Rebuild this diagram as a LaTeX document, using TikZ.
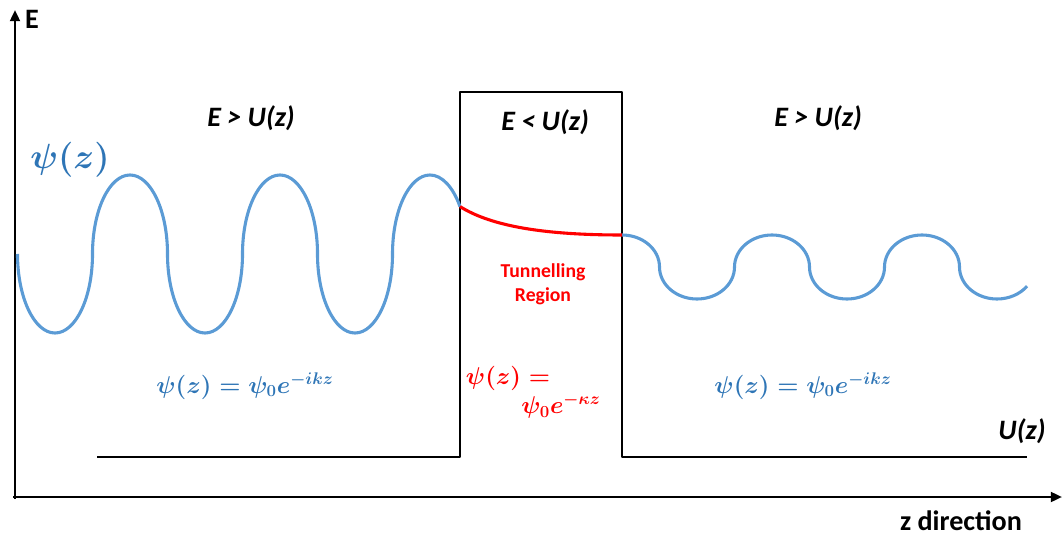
\documentclass[tikz,border=0pt]{standalone}
\usepackage{fontspec}
\setmainfont{Carlito}
\usepackage{amsmath,bm}
\usetikzlibrary{arrows.meta,positioning}
\definecolor{wave}{HTML}{5B9BD5}
\definecolor{wavetext}{HTML}{2E75B6}

\begin{document}
\begin{tikzpicture}[
    x=0.025cm,
    y=-0.025cm,
    >={Triangle[length=8pt,width=7pt]},
    axis/.style={->,line width=1.8pt},
    pot/.style={line width=1.8pt,line join=round},
    bluewave/.style={draw=wave,line width=2.2pt},
    redwave/.style={draw=red,line width=2.2pt},
    region/.style={font=\fontsize{20}{24}\selectfont\bfseries\itshape},
    axlabel/.style={font=\fontsize{20}{24}\selectfont\bfseries},
    eqn/.style={font=\fontsize{18}{22}\selectfont\boldmath,text=wavetext},
    psilabel/.style={font=\fontsize{25}{30}\selectfont\boldmath,text=wavetext},
    tunnel/.style={font=\fontsize{14}{17}\selectfont\bfseries,text=red,align=center}
  ]
  \useasboundingbox (0,0) rectangle (1064,537);

  % ========== Axes ==========
  \coordinate (o) at (15,497);
  \coordinate (ytop) at (15,10);
  \coordinate (xend) at (1062,497);
  \draw[axis] (o |- 0,499) -- (ytop);
  \draw[axis] (13,497) -- (xend);
  \node[axlabel] (elab) at (32,19) {E};
  \node[axlabel] (zlab) at (961,521) {z direction};

  % ========== Potential U(z) ==========
  \coordinate (u0) at (97,457);
  \coordinate (u1) at (460,457);
  \coordinate (u2) at (460,92);
  \coordinate (u3) at (622,92);
  \coordinate (u4) at (622,457);
  \coordinate (u5) at (1027,457);
  \draw[pot] (u0) -- (u1) -- (u2) -- (u3) -- (u4) -- (u5);
  \node[region] (ulab) at (1022,431) {U(z)};

  \node[region] (reg1) at (251,118) {E > U(z)};
  \node[region] (reg2) at (545,122) {E < U(z)};
  \node[region] (reg3) at (818,118) {E > U(z)};

  % ========== Wave function ==========
  % incoming wave
  \draw[bluewave] (17.5,254)
    foreach \k in {1,2} {
      arc[start angle=180,end angle=0,x radius=37.5,y radius=79]
      arc[start angle=180,end angle=360,x radius=37.5,y radius=79]
    }
    arc[start angle=180,end angle=0,x radius=37.5,y radius=79]
    arc[start angle=180,end angle=323.13,x radius=37.5,y radius=79]
    coordinate (win);

  % transmitted wave
  \coordinate (wout) at (622,235);
  \draw[bluewave] (wout)
    arc[start angle=270,end angle=360,x radius=37.5,y radius=32]
    foreach \k in {1,2} {
      arc[start angle=180,end angle=0,x radius=37.5,y radius=32]
      arc[start angle=180,end angle=360,x radius=37.5,y radius=32]
    }
    arc[start angle=180,end angle=36.87,x radius=37.5,y radius=32];

  % decaying part inside the barrier
  \draw[redwave] (win) .. controls (488,224) and (535,235) .. (wout);

  \node[psilabel] (psi) at (70,160) {$\bm{\psi(z)}$};
  \node[eqn] (eqL) at (245,386) {$\bm{\psi(z) = \psi_0 e^{-ikz}}$};
  \node[eqn] (eqR) at (803,386) {$\bm{\psi(z) = \psi_0 e^{-ikz}}$};
  \node[tunnel] (tun) at (543,284) {Tunnelling\\Region};
  \node[eqn,text=red] (eqT1) at (508,378) {$\bm{\psi(z) =}$};
  \node[eqn,text=red] (eqT2) at (561,406) {$\bm{\psi_0 e^{-\kappa z}}$};
\end{tikzpicture}
\end{document}
